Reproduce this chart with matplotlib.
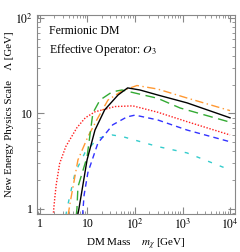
import numpy as np
import matplotlib
matplotlib.use("Agg")
import matplotlib.pyplot as plt

plt.rcParams['font.family'] = ['Liberation Serif', 'DejaVu Serif']
plt.rcParams['mathtext.fontset'] = 'stix'

# curves: DM mass [GeV] and scale Lambda [GeV]
black_m = [6.2, 6.6, 7.7, 9.8, 14.4, 23, 44, 70, 127, 300, 1244, 10000]
black_l = [0.85, 1.0, 1.58, 3.26, 6.7, 10.9, 15.6, 18.5, 17.6, 15.6, 12.9, 9.0]

orange_m = [3.9, 4.3, 6.3, 10.2, 16.6, 27, 53, 110, 300, 1244, 10000]
orange_l = [0.85, 1.15, 3.26, 5.7, 9.0, 13.8, 17.2, 19.6, 18.0, 14.5, 10.7]

green_m = [5.8, 6.0, 6.3, 9.8, 13, 18.3, 33, 53, 300, 890, 10000]
green_l = [0.85, 1.0, 1.7, 3.5, 10.1, 13.8, 16.8, 17.6, 14.4, 11.4, 8.1]

red_m = [1.9, 1.95, 2.05, 2.2, 2.6, 3.5, 6.0, 9.0, 14.4, 38, 90, 300, 1244, 10000]
red_l = [0.85, 1.0, 1.3, 1.8, 3.0, 4.5, 7.1, 9.0, 10.4, 11.8, 12.0, 10.3, 8.2, 5.95]

blue_m = [7.9, 8.0, 8.5, 10.2, 16.6, 34, 68, 100, 300, 1244, 10000]
blue_l = [0.85, 0.95, 1.4, 2.4, 4.9, 7.6, 9.2, 9.6, 8.55, 6.7, 5.05]

cyan_m = [3.5, 3.7, 4.3, 5.5, 8.9, 16.6, 33, 56, 300, 1244, 10000]
cyan_l = [0.85, 1.0, 1.4, 2.4, 3.9, 5.5, 5.95, 5.7, 4.5, 3.86, 2.56]

fig = plt.figure(figsize=(2.4, 2.52), dpi=100)
ax = fig.add_axes([0.154, 0.151, 0.825, 0.789])

ax.plot(red_m, red_l, color='#ff2020', lw=1.0, ls=(0, (1, 1.2)))
ax.plot(cyan_m, cyan_l, color='#33cccc', lw=1.0, ls=(0, (3, 6)))
ax.plot(blue_m, blue_l, color='#3333ff', lw=1.0, ls=(0, (4, 3)))
ax.plot(orange_m, orange_l, color='#ff9933', lw=1.0, ls=(0, (6, 2.5, 1, 2.5)))
ax.plot(green_m, green_l, color='#33aa33', lw=1.0, ls=(0, (7, 4)))
ax.plot(black_m, black_l, color='black', lw=1.0)

ax.set_xscale('log')
ax.set_yscale('log')
ax.set_xlim(0.865, 1.27e4)
ax.set_ylim(0.886, 107)

ax.set_xticks([1, 10, 100, 1000, 10000])
ax.set_xticklabels(['1', '10', r'$10^2$', r'$10^3$', r'$10^4$'])
ax.set_yticks([1, 10, 100])
ax.set_yticklabels(['1', '10', r'$10^2$'])

for s in ax.spines.values():
    s.set_color('#888888')
    s.set_linewidth(0.8)
ax.tick_params(which='both', direction='in', top=True, right=True,
               color='#888888', labelsize=8.5, pad=3)
ax.tick_params(which='major', length=5)
ax.tick_params(which='minor', length=2.5)

ax.text(0.06, 0.95, 'Fermionic DM', transform=ax.transAxes, fontsize=8.5, va='top')
ax.text(0.06, 0.865, r'Effective Operator: $O_3$', transform=ax.transAxes, fontsize=8.5, va='top')

ax.set_xlabel(r'DM Mass    $m_\chi$ [GeV]', fontsize=8, labelpad=3)
ax.set_ylabel('New Energy Physics Scale    Λ [GeV]', fontsize=7.8, labelpad=1)

fig.savefig('out.png', dpi=100)
